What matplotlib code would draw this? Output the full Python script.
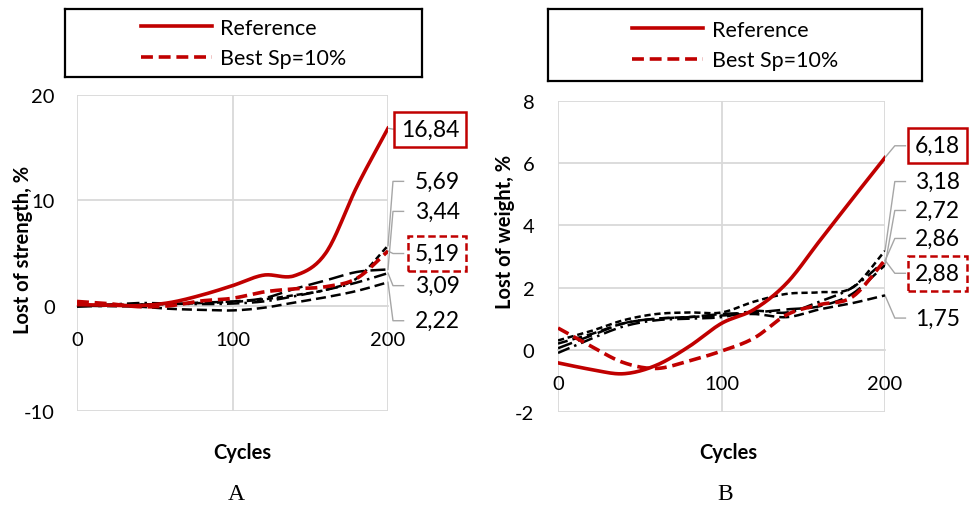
import numpy as np
import matplotlib
matplotlib.use("Agg")
import matplotlib.pyplot as plt
from matplotlib.lines import Line2D

plt.rcParams["font.family"] = ["Lato", "DejaVu Sans"]
plt.rcParams["axes.unicode_minus"] = False

RED = "#C00000"
GRID = "#D9D9D9"
LEADER = "#A6A6A6"

cycles = [0, 20, 40, 60, 80, 100, 120, 140, 160, 180, 200]

# panel A - lost of strength, %
strength_ref = [0.1, 0.05, 0.0, 0.3, 1.0, 1.9, 2.9, 2.85, 5.0, 11.3, 16.84]
strength_best = [0.4, 0.2, -0.1, 0.0, 0.45, 0.7, 1.3, 1.6, 1.8, 2.6, 5.19]
strength_569 = [0.0, 0.05, 0.1, 0.15, 0.25, 0.35, 0.6, 1.0, 1.5, 2.6, 5.69]
strength_344 = [-0.1, 0.0, 0.1, 0.2, 0.3, 0.4, 0.7, 1.6, 2.4, 3.2, 3.44]
strength_309 = [0.0, 0.1, 0.25, 0.2, 0.15, 0.2, 0.4, 0.9, 1.5, 2.2, 3.09]
strength_222 = [0.0, -0.05, -0.1, -0.3, -0.4, -0.45, -0.2, 0.3, 0.8, 1.4, 2.22]

# panel B - lost of weight, %
weight_ref = [-0.42, -0.63, -0.77, -0.5, 0.1, 0.85, 1.3, 2.15, 3.5, 4.85, 6.18]
weight_best = [0.7, 0.12, -0.41, -0.6, -0.36, -0.04, 0.38, 1.13, 1.45, 1.7, 2.88]
weight_318 = [0.3, 0.6, 0.95, 1.15, 1.2, 1.2, 1.55, 1.8, 1.85, 2.0, 3.18]
weight_272 = [0.05, 0.45, 0.85, 1.0, 1.05, 1.15, 1.2, 1.3, 1.4, 1.8, 2.72]
weight_286 = [-0.1, 0.35, 0.75, 0.95, 1.0, 1.05, 1.25, 1.2, 1.55, 2.0, 2.86]
weight_175 = [0.2, 0.5, 0.85, 1.0, 1.05, 1.1, 1.15, 1.05, 1.3, 1.5, 1.75]

legend_labels = ["Reference", "Best Sp=10%"]

# dash patterns for the black curves
DASHES = [(2.5, 1.5), (6, 2.5), (5, 2, 1, 2), (4, 2)]
BEST_DASH = (3.3, 1.6)


def smooth(x, y, n=20):
    # catmull-rom, like excel "smoothed line"
    x = np.asarray(x, float)
    y = np.asarray(y, float)
    px = np.concatenate([[2 * x[0] - x[1]], x, [2 * x[-1] - x[-2]]])
    py = np.concatenate([[2 * y[0] - y[1]], y, [2 * y[-1] - y[-2]]])
    t = np.linspace(0, 1, n, endpoint=False)[:, None]
    out = []
    for p in (px, py):
        p0, p1, p2, p3 = p[:-3], p[1:-2], p[2:-1], p[3:]
        seg = 0.5 * (2 * p1 + (-p0 + p2) * t + (2 * p0 - 5 * p1 + 4 * p2 - p3) * t ** 2
                     + (-p0 + 3 * p1 - 3 * p2 + p3) * t ** 3)
        out.append(np.concatenate([seg.T.ravel(), [p[-2]]]))
    return out


def fmt(v):
    return f"{v:.2f}".replace(".", ",")


def draw_panel(ax, blacks, ref, best, ylim, yticks, ylabel, labels, elbow, tick_pad):
    for s, d in zip(blacks, DASHES):
        xs, ys = smooth(cycles, s)
        ax.plot(xs, ys, color="black", lw=1.8, dashes=d, zorder=3)
    xs, ys = smooth(cycles, best)
    ax.plot(xs, ys, color=RED, lw=2.6, dashes=BEST_DASH, zorder=4)
    xs, ys = smooth(cycles, ref)
    ax.plot(xs, ys, color=RED, lw=2.6, zorder=5)

    ax.set_xlim(0, 200)
    ax.set_ylim(*ylim)
    ax.set_xticks([0, 100, 200])
    ax.set_yticks(yticks)
    ax.grid(True, color=GRID, lw=1.3)
    ax.set_axisbelow(True)
    for side in ["top", "left", "right"]:
        ax.spines[side].set_visible(False)
    ax.spines["bottom"].set_position(("data", 0))
    ax.spines["bottom"].set_color(GRID)
    ax.spines["bottom"].set_linewidth(1.3)
    ax.tick_params(axis="x", length=0, pad=18, labelsize=14.5)
    ax.tick_params(axis="y", length=0, pad=tick_pad, labelsize=14.5)

    ax.set_ylabel(ylabel, fontsize=14.5, fontweight="bold")
    ax.set_xlabel("Cycles", fontsize=14.5, fontweight="bold")

    # data labels with leader lines
    for s, ty, st in labels:
        ax.plot([cycles[-1], elbow[0], elbow[1]], [s[-1], ty, ty],
                color=LEADER, lw=1.0, clip_on=False, zorder=1)
        box = None
        if st == "ref":
            box = dict(boxstyle="square,pad=0.3", fc="white", ec=RED, lw=1.8)
        elif st == "best":
            box = dict(boxstyle="square,pad=0.3", fc="white", ec=RED, lw=1.8, ls=(0, (3, 1.5)))
        ax.text(246, ty, fmt(s[-1]), ha="right", va="center", fontsize=16.5,
                bbox=box, clip_on=False, zorder=6)


def draw_legend(fig, rect):
    lax = fig.add_axes(rect)
    lax.set_xticks([])
    lax.set_yticks([])
    for sp in lax.spines.values():
        sp.set_color("black")
        sp.set_linewidth(1.6)
    handles = [Line2D([], [], color=RED, lw=2.6),
               Line2D([], [], color=RED, lw=2.6, dashes=BEST_DASH)]
    lax.legend(handles, legend_labels, loc="center", frameon=False, fontsize=15.5,
               handlelength=3.3, handletextpad=0.4, labelspacing=0.5)


fig = plt.figure(figsize=(9.69, 5.10), dpi=100)
W, H = 969, 510

ax_a = fig.add_axes([77 / W, 1 - 412 / H, 311 / W, 316 / H])
draw_panel(ax_a,
           [strength_569, strength_344, strength_309, strength_222],
           strength_ref, strength_best,
           (-10, 20), [-10, 0, 10, 20], "Lost of strength, %",
           [(strength_ref, 16.76, "ref"), (strength_569, 11.8, None),
            (strength_344, 8.95, None), (strength_best, 4.95, "best"),
            (strength_309, 1.9, None), (strength_222, -1.43, None)],
           (203.2, 210.0), 16)
ax_a.xaxis.set_label_coords((242 - 77) / 311, (412 - 443) / 316)
ax_a.yaxis.set_label_coords((33 - 77) / 311, (412 - 250) / 316)

ax_b = fig.add_axes([558 / W, 1 - 413 / H, 327 / W, 311 / H])
draw_panel(ax_b,
           [weight_318, weight_272, weight_286, weight_175],
           weight_ref, weight_best,
           (-2, 8), [-2, 0, 2, 4, 6, 8], "Lost of weight, %",
           [(weight_ref, 6.56, "ref"), (weight_318, 5.41, None),
            (weight_272, 4.48, None), (weight_286, 3.58, None),
            (weight_best, 2.46, "best"), (weight_175, 1.02, None)],
           (206.0, 212.5), 17)
ax_b.xaxis.set_label_coords((728 - 558) / 327, (413 - 443) / 311)
ax_b.yaxis.set_label_coords((515 - 558) / 327, (413 - 232) / 311)

draw_legend(fig, [65 / W, 1 - 78 / H, 357 / W, 68 / H])
draw_legend(fig, [548 / W, 1 - 82 / H, 374 / W, 72 / H])

fig.text(236 / W, 1 - 495 / H, "A", ha="center", va="center", fontsize=17,
         family="Liberation Serif")
fig.text(725 / W, 1 - 495 / H, "B", ha="center", va="center", fontsize=17,
         family="Liberation Serif")

fig.savefig("out.png", dpi=100)
